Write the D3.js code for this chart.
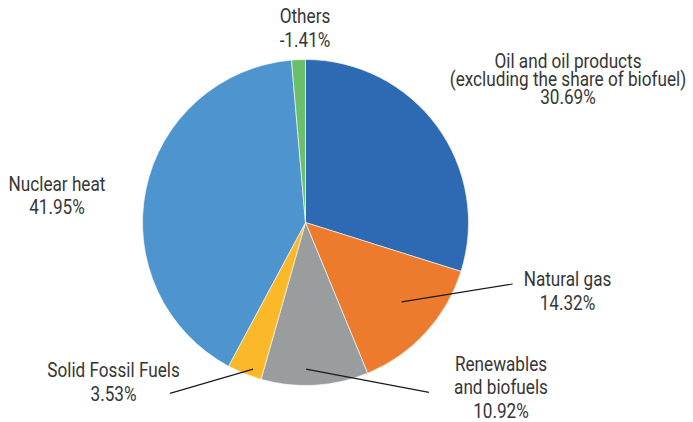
<!DOCTYPE html>
<html>
<head>
<meta charset="utf-8">
<script src="https://cdn.jsdelivr.net/npm/d3@7"></script>
<style>
  html, body { margin: 0; padding: 0; background: #fff; }
  svg { display: block; }
  text { font-family: "Roboto", "DejaVu Sans", sans-serif; font-size: 19.5px; fill: #363636; }
</style>
</head>
<body>
<svg id="chart" width="693" height="422"></svg>
<script>
// Energy mix shares, clockwise from twelve o'clock
const categories = [
  "Oil and oil products",
  "Natural gas",
  "Renewables and biofuels",
  "Solid Fossil Fuels",
  "Nuclear heat",
  "Others"
];
const shares = [30.69, 14.32, 10.92, 3.53, 41.95, -1.41];
const labelLines = [
  ["Oil and oil products", "(excluding the share of biofuel)"],
  ["Natural gas"],
  ["Renewables", "and biofuels"],
  ["Solid Fossil Fuels"],
  ["Nuclear heat"],
  ["Others"]
];
const colors = ["#2e6ab3", "#ec7b2e", "#9a9d9d", "#fbb92a", "#4e95d0", "#6bbf6b"];

// Label layout: text centre, first baseline, line spacing, optional leader line
const labelLayout = [
  { x: 568, y: 68, dy: 18 },
  { x: 567.5, y: 286, dy: 24, leader: { t: 0.44, r: 0.765, end: [512.7, 284] } },
  { x: 501, y: 370.7, dy: 23.5, leader: { t: 0.58, r: 0.9, end: [429, 392.3] } },
  { x: 113.5, y: 377.3, dy: 23.7, leader: { t: 0.31, r: 0.955, end: [170, 393.3] } },
  { x: 57, y: 190.7, dy: 23.3 },
  { x: 305, y: 23.3, dy: 23.4 }
];

// Narrow the type horizontally for a condensed look
const squeeze = 0.88;

const svg = d3.select("#chart");
const cx = 305.5, cy = 222.5, radius = 163;

const pie = d3.pie().sort(null).value(d => Math.abs(d.value));
const data = categories.map((c, i) => ({ name: c, value: shares[i], i }));
const arcs = pie(data);

const arc = d3.arc().innerRadius(0).outerRadius(radius);

const g = svg.append("g").attr("transform", `translate(${cx},${cy})`);

g.selectAll("path.slice")
  .data(arcs)
  .join("path")
  .attr("class", "slice")
  .attr("d", arc)
  .attr("fill", d => colors[d.data.i])
  .attr("stroke", "#ffffff")
  .attr("stroke-width", 0.6);

// Leader lines from inside the slice to the label
arcs.forEach(d => {
  const L = labelLayout[d.data.i].leader;
  if (!L) return;
  const a = d.startAngle + L.t * (d.endAngle - d.startAngle);
  const r = radius * L.r;
  const x0 = cx + r * Math.sin(a);
  const y0 = cy - r * Math.cos(a);
  svg.append("line")
    .attr("x1", x0).attr("y1", y0)
    .attr("x2", L.end[0]).attr("y2", L.end[1])
    .attr("stroke", "#1a1a1a")
    .attr("stroke-width", 1.2);
});

// Labels: name lines followed by the share (plain hyphen for negatives)
const locale = d3.formatLocale({ decimal: ".", thousands: ",", grouping: [3], currency: ["", ""], minus: "-" });
const fmt = v => locale.format(".2f")(v) + "%";
arcs.forEach(d => {
  const lay = labelLayout[d.data.i];
  const lines = labelLines[d.data.i].concat([fmt(d.data.value)]);
  const t = svg.append("text")
    .attr("text-anchor", "middle")
    .attr("transform", `translate(${lay.x},0) scale(${squeeze},1)`);
  lines.forEach((s, k) => {
    t.append("tspan")
      .attr("x", 0)
      .attr("y", lay.y + k * lay.dy)
      .text(s);
  });
});
</script>
</body>
</html>
